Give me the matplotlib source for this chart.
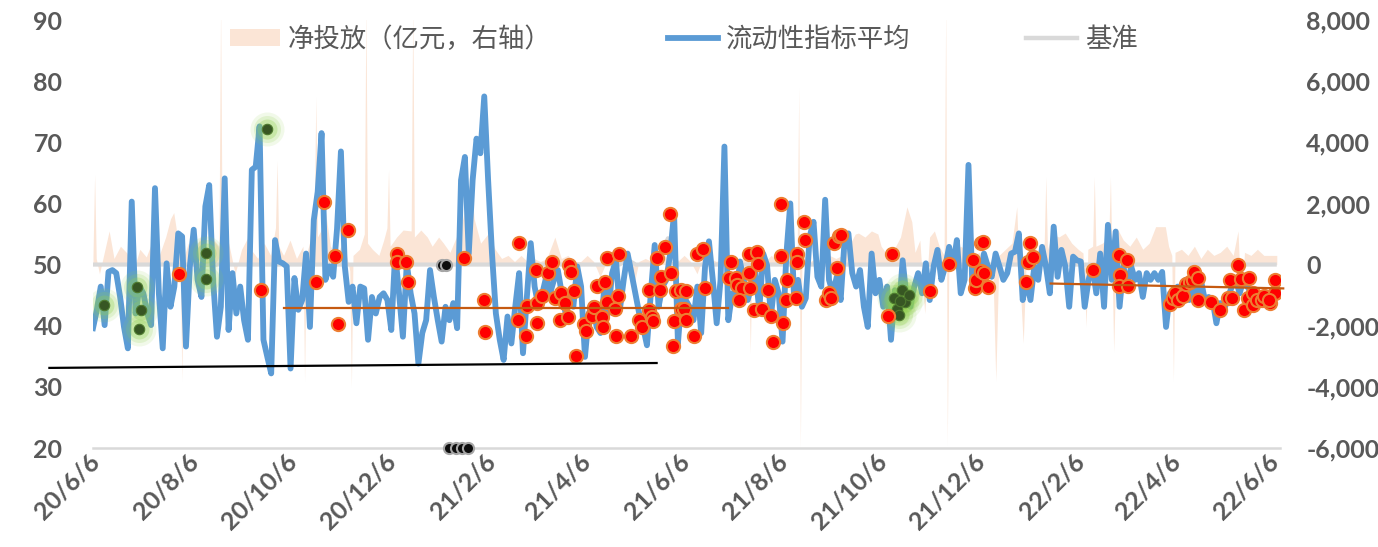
import numpy as np
import pandas as pd
import matplotlib
matplotlib.use('Agg')
import matplotlib.pyplot as plt
import matplotlib.transforms as mtransforms
from matplotlib.lines import Line2D
from matplotlib.patches import Patch
from matplotlib.ticker import FuncFormatter

plt.rcParams['font.family'] = ['Lato', 'Noto Sans CJK SC', 'DejaVu Sans']

# time span of the daily series
start = pd.Timestamp('2020-06-06')
end = pd.Timestamp('2022-06-10')

# liquidity indicator average (left axis) in time order
blue_vals = [
    39.6, 42.6, 46.4, 40.1, 48.8, 49.1, 48.6, 44.7, 39.8, 36.3, 60.3, 42.0, 46.4, 45.3, 42.0, 40.1,
    62.5, 45.3, 36.3, 50.2, 43.1, 46.4, 55.1, 54.6, 36.6, 49.7, 55.7, 47.5, 44.7, 59.5, 63.0, 47.5,
    38.2, 43.1, 64.1, 39.3, 48.6, 42.0, 46.4, 40.9, 37.7, 65.5, 66.0, 72.6, 37.7, 34.9, 32.2, 54.0,
    50.5, 50.2, 49.7, 33.0, 47.8, 42.6, 44.2, 51.8, 39.8, 57.3, 61.9, 71.5, 47.5, 49.7, 48.0, 55.9,
    68.5, 49.7, 43.9, 46.4, 40.4, 46.4, 46.1, 37.7, 44.7, 42.0, 44.7,
    45.3, 44.2, 39.3, 51.8, 45.3, 38.2, 50.2, 45.3, 42.0, 33.8, 38.8, 40.9, 49.1, 44.7, 40.9, 37.4,
    43.1, 40.9, 43.7, 39.6, 63.8, 67.6, 51.8, 63.8, 70.6, 68.2, 77.5, 63.8, 51.8, 42.0, 37.7, 34.4,
    41.5, 37.1, 43.1, 48.6, 35.5, 44.7, 53.5, 46.4, 43.1, 45.3, 48.0, 45.3, 47.5, 49.1, 45.3, 42.0,
    45.3, 43.1, 49.7, 46.4, 34.9, 42.0, 43.7, 39.8, 38.8, 46.4, 42.0, 48.6, 50.7, 42.6, 47.5, 51.8,
    48.6, 45.3, 42.0, 39.8, 36.8, 45.3, 53.2, 43.1, 46.4, 47.5, 51.8, 58.4, 37.1, 45.3, 44.2,
    43.1, 40.9, 46.4, 38.8, 49.7, 53.8, 47.5, 40.4, 47.5, 69.3, 40.9, 45.3, 44.2, 50.5, 47.5, 44.2,
    46.4, 48.6, 42.6, 51.8, 49.9, 41.5, 47.5, 45.3, 37.4, 51.8, 60.0, 44.2, 47.5, 43.1, 44.5, 54.6,
    57.0, 48.0, 46.4, 60.6, 47.5, 45.3, 48.0, 44.2, 53.8, 55.1, 48.6, 46.4, 49.1, 43.1, 39.8, 51.8,
    45.3, 47.5, 43.1, 46.4, 37.7, 45.8, 42.0, 50.7, 44.7, 43.1, 46.4, 48.6, 45.3, 50.2, 44.2, 49.7,
    52.4, 47.5, 49.7, 52.9, 49.7, 54.0, 45.3, 47.5, 66.3, 46.4, 49.7, 47.5, 51.8,
    49.7, 48.0, 51.8, 49.7, 47.5, 48.6, 51.8, 52.1, 55.1, 44.2, 47.5, 44.2, 49.7, 47.5, 52.9, 49.7,
    45.3, 56.2, 48.0, 52.4, 49.7, 43.1, 51.3, 50.7, 50.5, 43.1, 47.5, 49.7, 45.3, 51.8, 43.1, 56.5,
    47.5, 55.4, 43.1, 49.7, 46.4, 49.7, 47.5, 48.6, 44.7, 48.6, 47.5, 48.6, 47.5, 48.8, 39.8, 45.3,
    44.2, 46.4, 45.3, 47.5, 44.2, 46.4, 44.2, 47.5, 44.2, 44.7, 44.2, 40.4, 43.7, 42.6, 44.7, 46.4,
    47.5, 45.3, 47.5, 46.4, 45.3, 44.7, 45.3, 44.2, 44.7, 44.2, 45.3, 46.4,
]

# net injection (100m yuan, right axis): (day offset from start, value)
peach_pts = [
    (0, 300), (1, 2950), (2, 200), (4, -300), (7, 400), (10, 1100), (13, 200), (17, 600),
    (21, 380), (25, -200), (29, 500), (33, 250), (37, 800), (41, 300), (45, 900), (48, 1500),
    (50, 1700), (54, 300), (55, -3800), (56, 200), (59, 700), (63, 400), (67, 1000), (71, 300),
    (75, 800), (78, 600), (79, 8500), (80, 500), (84, 700), (88, -300), (92, 500), (96, 900),
    (98, 480), (102, 200), (106, 700), (110, 300), (113, 1200), (114, 3400), (115, 600),
    (118, 300), (122, 800), (126, 200), (130, 600), (131, -3800), (132, 300), (135, 900),
    (137, 1700), (138, 5500), (139, 900), (142, 1200), (144, 1700), (147, 600), (151, 300),
    (155, 800), (159, -200), (160, -4000), (161, 300), (165, 500), (168, 1000), (169, 8500),
    (170, 700), (173, 500), (177, 300), (180, 800), (182, 1200), (183, 3100), (184, 600),
    (188, 900), (192, 1130), (197, 1100), (198, 8500), (199, 900), (203, 1130), (207, 900),
    (210, 600), (214, 900), (217, 700), (221, 400), (225, 900), (229, 1500), (232, 2400),
    (234, 2770), (236, 1500), (240, 700), (245, 1030), (249, 500), (253, 200), (257, 300),
    (261, 100), (265, 300), (269, 100), (273, 200), (277, 100), (281, 200), (286, 900),
    (290, 200), (294, 300), (298, 100), (302, 100), (306, 300), (310, 100), (314, -400),
    (318, 100), (322, 200), (326, 300), (330, 100), (334, -900), (338, 100), (342, 200),
    (346, 100), (350, 100), (354, 300), (358, 100), (362, 100), (366, 300), (370, 100),
    (374, -300), (378, 300), (382, 200), (386, 100), (390, 200), (394, 300), (398, 100),
    (402, 200), (406, 100), (407, -2900), (408, 100), (412, 200), (416, 100), (420, 300),
    (424, 100), (428, 200), (432, 100), (436, 300), (437, 5800), (438, -6000), (439, 200),
    (440, 300), (444, 100), (448, 200), (452, 100), (456, 300), (460, 200), (464, 300),
    (468, 600), (472, 1000), (474, 1030), (478, 900), (482, 1100), (486, 1000), (488, 600),
    (492, 300), (496, 500), (500, 900), (504, 1890), (507, 1400), (509, 400), (512, 800),
    (515, -1600), (518, 900), (521, 1100), (524, 600), (527, 300), (528, 8500), (529, -5900),
    (530, 400), (533, 300), (537, 600), (541, 500), (545, 300), (549, 400), (553, -300),
    (557, 300), (559, -3800), (561, 300), (565, 500), (569, 700), (572, 1890), (573, 400),
    (576, -2570), (578, 300), (582, 600), (586, 400), (589, 700), (590, 2875), (591, 500),
    (594, 1000), (598, 900), (602, 1030), (606, 700), (610, 500), (613, 380), (615, -2030),
    (616, 500), (619, 600), (620, 2875), (621, 600), (625, 700), (629, 900), (630, 2875),
    (632, -2850), (634, 1200), (638, 800), (642, 600), (646, 900), (650, 500), (654, 700),
    (658, 1240), (664, 1240), (666, 600), (668, 300), (669, -3800), (670, 400), (674, 500),
    (678, 300), (682, 600), (686, 200), (690, 500), (694, 300), (698, 400), (702, 600),
    (706, 300), (709, 1100), (711, -1500), (713, 400), (717, 300), (721, 500), (725, 300),
    (729, 300), (733, 300),
]

# highlighted points (day offset, value)
red_pts = [
    (53, 48.5), (104, 45.8), (138, 47.2), (143, 60.2), (150, 51.4), (152, 40.2), (158, 55.7),
    (188, 51.8), (188, 50.5), (194, 50.5), (195, 47.2), (230, 51.1), (242, 44.2), (243, 39.0),
    (264, 53.6), (263, 40.9), (268, 38.3), (269, 43.2), (274, 49.1), (275, 43.7), (275, 40.4),
    (278, 44.9), (282, 48.7), (284, 50.5), (286, 44.5), (289, 40.9), (290, 45.3), (292, 43.7),
    (294, 41.4), (295, 49.9), (296, 48.8), (298, 45.6), (299, 35.1), (304, 40.3), (305, 39.2),
    (309, 41.6), (310, 43.1), (312, 46.5), (315, 41.4), (316, 39.8), (317, 47.2), (318, 51.0),
    (318, 43.9), (324, 38.3), (325, 44.9), (323, 42.7), (326, 51.7), (333, 38.3), (338, 40.9),
    (340, 39.8), (344, 45.8), (344, 42.5), (346, 41.5), (347, 40.7), (349, 51.0), (351, 45.8),
    (352, 47.9), (354, 52.8), (357, 58.2), (358, 48.6), (359, 36.7), (360, 40.7), (361, 45.6),
    (364, 45.8), (364, 42.8),
    (367, 45.7), (366, 42.8), (367, 40.9), (372, 38.3), (374, 51.8), (378, 52.5), (379, 46.1),
    (394, 47.8), (395, 50.5), (398, 47.8), (399, 46.7), (402, 46.1), (400, 44.2), (406, 51.8),
    (406, 48.7), (407, 46.1), (409, 42.6), (411, 52.1), (412, 50.1), (414, 42.8), (418, 45.8),
    (420, 41.6), (421, 37.4), (426, 59.9), (426, 51.4), (427, 40.5), (429, 44.2), (430, 47.5),
    (435, 44.5), (436, 51.8), (436, 50.5), (440, 57.0), (441, 54.0), (454, 44.2), (456, 45.3),
    (457, 44.6), (459, 53.6), (462, 54.6), (463, 54.8), (461, 49.4), (495, 51.7), (492, 41.6),
    (518, 45.6), (530, 50.1), (545, 50.7), (546, 46.1), (547, 47.5), (550, 53.6), (550, 48.9),
    (551, 53.7), (552, 48.7), (554, 46.4), (578, 47.2), (579, 50.5), (582, 51.3), (580, 53.6),
    (619, 49.1), (635, 51.5), (640, 50.8), (636, 48.3), (635, 46.5), (641, 46.5), (667, 43.5),
    (669, 44.5), (670, 45.3), (672, 44.2), (675, 44.8), (677, 46.8), (679, 47.2), (681, 47.5),
    (682, 48.8), (684, 47.8), (684, 44.2), (692, 43.9), (698, 42.6), (703, 44.5), (704, 47.5),
    (705, 44.5), (709, 49.9), (711, 47.6), (713, 42.6), (715, 44.5), (716, 47.8), (718, 43.4),
    (718, 45.3), (721, 44.2), (724, 44.2), (725, 44.8), (729, 43.7), (732, 47.5), (732, 45.4),
    (728, 44.2),
]
green_pts = [(7, 43.4), (27, 46.3), (29.5, 42.5), (28.4, 39.4), (70, 51.9), (70, 47.6),
             (108, 72.2), (496, 44.5), (501, 45.9), (498, 42.8), (503, 43.9), (499, 41.7),
             (505, 45.0), (500, 44.0)]
black_pts = [(216, 50), (218.5, 50), (220.3, 20), (225, 20), (228.5, 20), (232.2, 20)]

# benchmark line
base_day = [0, 326, 331, 336, 349, 356, 362, 733]
base_val = [50, 50, 50.8, 50, 50, 54.3, 50, 50]

# trend segments (day offsets, values)
trend_black = ([-27, 349], [33.1, 33.9])
trend_orange1 = ([118, 393], [42.9, 42.9])
trend_orange2 = ([593, 737], [46.9, 46.1])

x_ticks = ['2020-06-06', '2020-08-06', '2020-10-06', '2020-12-06', '2021-02-06', '2021-04-06',
           '2021-06-06', '2021-08-06', '2021-10-06', '2021-12-06', '2022-02-06', '2022-04-06',
           '2022-06-06']


def to_date(days):
    return start + pd.to_timedelta(np.asarray(days, dtype=float), unit='D')


fig = plt.figure(figsize=(13.78, 5.47), dpi=100)
ax = fig.add_axes([93 / 1378, 99 / 547, 1187 / 1378, 428 / 547])
ax2 = ax.twinx()
ax.set_zorder(ax2.get_zorder() + 1)
ax.patch.set_visible(False)

# net injection area on the right axis
pd_, pv = zip(*peach_pts)
ax2.fill_between(to_date(pd_), 0, pv, color='#FBE5D6', lw=0)
ax2.set_ylim(-6000, 8000)
ax2.set_yticks(np.arange(-6000, 8001, 2000))
ax2.yaxis.set_major_formatter(FuncFormatter(lambda v, p: f'{int(v):,}'))

blue_dates = pd.date_range(start, end, periods=len(blue_vals))
ax.plot(to_date(base_day), base_val, color='#D9D9D9', lw=3, zorder=2, solid_capstyle='butt')
ax.plot(blue_dates, blue_vals, color='#5B9BD5', lw=4.2, zorder=3, solid_joinstyle='round')

gd, gv = zip(*green_pts)
for s, a in [(34, 0.12), (27, 0.18), (20, 0.3)]:
    ax.plot(to_date(gd), gv, 'o', ms=s * 0.72, mfc='#92D050', mec='none', alpha=a, zorder=4)
ax.plot(to_date(gd), gv, 'o', ms=7.5, mfc='#375623', mec='#4E7A2E', mew=0.8, zorder=5)

rd, rv = zip(*red_pts)
ax.plot(to_date(rd), rv, 'o', ms=9.5, mfc='#FF0000', mec='#ED7D31', mew=1.5, zorder=6)

bd, bv = zip(*black_pts)
ax.plot(to_date(bd), bv, 'o', ms=8, mfc='#0D0D0D', mec='#A6A6A6', mew=1.5, zorder=6, clip_on=False)

ax.plot(to_date(trend_black[0]), trend_black[1], color='black', lw=1.6, zorder=7, clip_on=False)
ax.plot(to_date(trend_orange1[0]), trend_orange1[1], color='#C55A11', lw=1.6, zorder=7)
ax.plot(to_date(trend_orange2[0]), trend_orange2[1], color='#C55A11', lw=1.6, zorder=7,
        clip_on=False)

ax.set_ylim(20, 90)
ax.set_yticks(np.arange(20, 91, 10))
ax.set_xlim(start, pd.Timestamp('2022-06-11'))
xt = pd.to_datetime(x_ticks)
ax.set_xticks(xt)
ax.set_xticklabels([f'{d.year % 100}/{d.month}/{d.day}' for d in xt])

for a in (ax, ax2):
    for sp in a.spines.values():
        sp.set_visible(False)
ax.spines['bottom'].set_visible(True)
ax.spines['bottom'].set_color('#D9D9D9')
ax.spines['bottom'].set_linewidth(1.8)

ax.tick_params(axis='y', length=0, pad=22, labelsize=18, labelcolor='#595959')
ax.tick_params(axis='x', length=0, pad=1, labelsize=18, labelcolor='#595959')
ax2.tick_params(axis='y', length=0, pad=19, labelsize=18, labelcolor='#595959')
for lab in ax.get_yticklabels() + ax2.get_yticklabels():
    lab.set_fontweight('bold')
shift = mtransforms.ScaledTranslation(-5 / 100, 0, fig.dpi_scale_trans)
for lab in ax.get_xticklabels():
    lab.set_fontweight('bold')
    lab.set_rotation(45)
    lab.set_ha('right')
    lab.set_va('top')
    lab.set_rotation_mode('anchor')
    lab.set_transform(lab.get_transform() + shift)

handles = [Patch(facecolor='#FBE5D6', edgecolor='none'),
           Line2D([], [], color='#5B9BD5', lw=4.2),
           Line2D([], [], color='#D9D9D9', lw=3.2)]
labels = ['净投放（亿元，右轴）', '流动性指标平均', '基准']
leg = ax.legend(handles, labels, loc='upper center', bbox_to_anchor=(0.4975, 1.042), ncol=3,
                frameon=False, fontsize=19, handlelength=1.9, handleheight=0.6,
                handletextpad=0.3, columnspacing=4.4, labelcolor='#595959')
for t in leg.get_texts():
    t.set_family(['Noto Sans CJK SC', 'DejaVu Sans'])

plt.savefig('out.png', dpi=100)
